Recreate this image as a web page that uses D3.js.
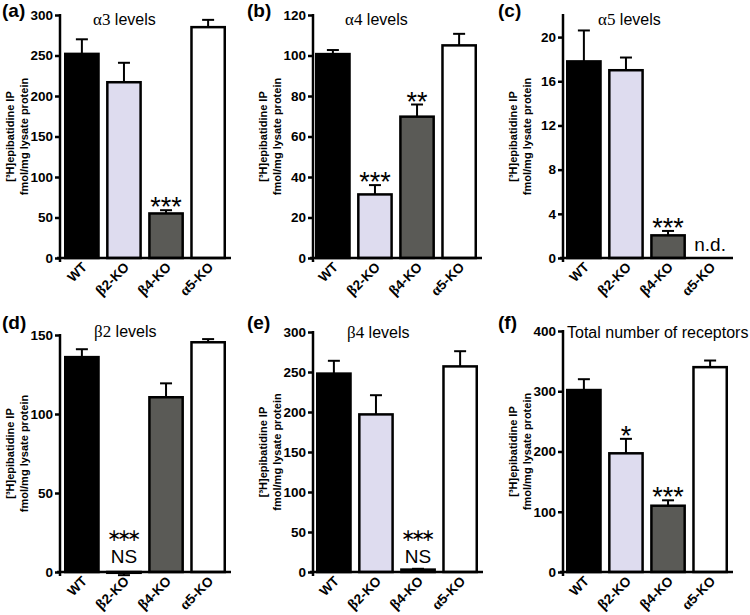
<!DOCTYPE html>
<html><head><meta charset="utf-8">
<script src="https://cdn.jsdelivr.net/npm/d3@7"></script>
<style>
body{margin:0;background:#fff}
svg{display:block}
text{font-family:"Liberation Sans",Arial,sans-serif;fill:#000}
</style>
</head><body>
<svg id="chart" width="750" height="615"></svg>
<script>
// ---------- data ----------
const categories = ["WT", "β2-KO", "β4-KO", "α5-KO"];

const a3Values = [252, 217, 55, 285];
const a3Errors = [18, 24, 4, 9];
const a3Sig    = ["", "", "***", ""];

const a4Values = [100.7, 31.4, 69.8, 105];
const a4Errors = [2, 4.6, 6, 5.7];
const a4Sig    = ["", "***", "**", ""];

const a5Values = [17.8, 17.0, 2.05, null];   // α5-KO: n.d.
const a5Errors = [2.8, 1.15, 0.4, null];
const a5Sig    = ["", "", "***", ""];

const b2Values = [136, -0.5, 110.6, 145.4];
const b2Errors = [5, 1.5, 8.8, 2];
const b2Sig    = ["", "***\nNS", "", ""];

const b4Values = [248, 197, 3, 257];
const b4Errors = [16, 24, 1, 19];
const b4Sig    = ["", "", "***\nNS", ""];

const totValues = [302, 197, 110, 340];
const totErrors = [18, 24, 9, 11];
const totSig    = ["", "*", "***", ""];

const a3Ticks  = [0, 50, 100, 150, 200, 250, 300];
const a4Ticks  = [0, 20, 40, 60, 80, 100, 120];
const a5Ticks  = [0, 4, 8, 12, 16, 20];
const b2Ticks  = [0, 50, 100, 150];
const b4Ticks  = [0, 50, 100, 150, 200, 250, 300];
const totTicks = [0, 100, 200, 300, 400];

const panelLabels = ["(a)", "(b)", "(c)", "(d)", "(e)", "(f)"];
const panelTitles = [
  [["α3", "serif"], [" levels", "sans"]],
  [["α4", "serif"], [" levels", "sans"]],
  [["α5", "serif"], [" levels", "sans"]],
  [["β2", "serif"], [" levels", "sans"]],
  [["β4", "serif"], [" levels", "sans"]],
  [["Total number of receptors", "sans"]]
];
const yLabel1 = "[³H]epibatidine IP";
const yLabel2 = "fmol/mg lysate protein";

// ---------- layout ----------
const barColors = ["#000000", "#dedcef", "#5a5a56", "#ffffff"];
const panels = [
  {values:a3Values, errors:a3Errors, sig:a3Sig, ticks:a3Ticks, max:300, x0:60,  off:4, top:15,  bottom:258, tx:93,  ty:25,  lx:2,   ly:17},
  {values:a4Values, errors:a4Errors, sig:a4Sig, ticks:a4Ticks, max:120, x0:313, off:2, top:15,  bottom:258, tx:345, ty:25,  lx:247, ly:17},
  {values:a5Values, errors:a5Errors, sig:a5Sig, ticks:a5Ticks, max:22,  x0:563, off:3, top:15,  bottom:258, tx:598, ty:25,  lx:498, ly:17},
  {values:b2Values, errors:b2Errors, sig:b2Sig, ticks:b2Ticks, max:150, x0:60,  off:4, top:335, bottom:572, tx:94,  ty:337, lx:2,   ly:329},
  {values:b4Values, errors:b4Errors, sig:b4Sig, ticks:b4Ticks, max:300, x0:313, off:3, top:332, bottom:572, tx:347, ty:338, lx:247, ly:329},
  {values:totValues,errors:totErrors,sig:totSig,ticks:totTicks,max:400, x0:563, off:3, top:331, bottom:572, tx:567, ty:338, lx:498, ly:329}
];

const svg = d3.select("#chart");
const SANS = '"Liberation Sans",Arial,sans-serif';
const SERIF = '"Liberation Serif","Times New Roman",serif';

panels.forEach((p, pi) => {
  const g = svg.append("g");
  const y = d3.scaleLinear().domain([0, p.max]).range([p.bottom, p.top]);
  const step = 40.5;
  const x = d3.scaleBand().domain(categories)
    .range([p.x0 + p.off, p.x0 + p.off + step * categories.length])
    .paddingInner(0.15).paddingOuter(0);

  // y axis ticks + labels
  const ax = g.append("g").attr("transform", `translate(${p.x0},0)`)
    .call(d3.axisLeft(y).tickValues(p.ticks).tickSize(5).tickPadding(2).tickFormat(d3.format("d")));
  ax.select(".domain").remove();
  ax.selectAll(".tick line").attr("stroke", "#000").attr("stroke-width", 2.5);
  ax.selectAll(".tick text").attr("font-family", SANS).attr("font-weight", "bold")
    .attr("font-size", 13.5).attr("fill", "#000");

  // bars
  p.values.forEach((v, i) => {
    if (v === null) return;
    const yv = y(v), y0 = y(0);
    g.append("rect")
      .attr("x", x(categories[i]) + 1.25)
      .attr("y", Math.min(yv, y0))
      .attr("width", x.bandwidth() - 2.5)
      .attr("height", Math.max(Math.abs(y0 - yv), 0.5))
      .attr("fill", barColors[i]).attr("stroke", "#000").attr("stroke-width", 2.5);
  });

  // error bars
  p.values.forEach((v, i) => {
    if (v === null) return;
    const e = p.errors[i];
    const end = v >= 0 ? v + e : v - e;
    const cx = x(categories[i]) + x.bandwidth() / 2;
    g.append("line").attr("x1", cx).attr("x2", cx).attr("y1", y(v)).attr("y2", y(end))
      .attr("stroke", "#000").attr("stroke-width", 2);
    g.append("line").attr("x1", cx - 6).attr("x2", cx + 6).attr("y1", y(end)).attr("y2", y(end))
      .attr("stroke", "#000").attr("stroke-width", 2);
  });

  // axes lines
  const lastBand = x(categories[categories.length - 1]) + x.bandwidth();
  g.append("line").attr("x1", p.x0 - 3).attr("x2", lastBand + 5)
    .attr("y1", y(0)).attr("y2", y(0)).attr("stroke", "#000").attr("stroke-width", 2.5);
  g.append("line").attr("x1", p.x0).attr("x2", p.x0)
    .attr("y1", p.top - 1).attr("y2", p.bottom + 4).attr("stroke", "#000").attr("stroke-width", 2.5);

  // significance labels
  p.sig.forEach((s, i) => {
    const cx = x(categories[i]) + x.bandwidth() / 2;
    if (s === "") return;
    const v = p.values[i], e = p.errors[i];
    if (s.includes("\n")) {
      const [st, ns] = s.split("\n");
      // stacked: asterisk operator glyph sits low in its box so the two labels stay apart
      const ls = -4;
      g.append("text").attr("x", cx + ls / 2).attr("y", y(0) - 31).attr("text-anchor", "middle")
        .attr("font-family", '"DejaVu Sans",sans-serif').attr("font-size", 17)
        .attr("fill", "#000").style("fill", "#000")
        .attr("letter-spacing", ls).text(st.replace(/\*/g, "∗"));
      g.append("text").attr("x", cx).attr("y", y(0) - 9).attr("text-anchor", "middle")
        .attr("font-size", 19).text(ns);
    } else {
      g.append("text").attr("x", cx).attr("y", y(v + e) + 6).attr("text-anchor", "middle")
        .attr("font-size", 27).text(s);
    }
  });
  // n.d.
  p.values.forEach((v, i) => {
    if (v !== null) return;
    const cx = x(categories[i]) + x.bandwidth() / 2;
    g.append("text").attr("x", cx).attr("y", y(0) - 7).attr("text-anchor", "middle")
      .attr("font-size", 19).text("n.d.");
  });

  // category labels
  categories.forEach((c, i) => {
    const cx = x(categories[i]) + x.bandwidth() / 2;
    const t = g.append("text")
      .attr("transform", `translate(${cx + 6},${p.bottom + 10}) rotate(-45)`)
      .attr("text-anchor", "end").attr("font-weight", "bold").attr("font-size", 13.5);
    const m = c.match(/^([αβ])(.*)$/);
    if (m) {
      t.append("tspan").attr("font-family", SERIF).attr("font-size", 15).text(m[1]);
      t.append("tspan").text(m[2]);
    } else t.text(c);
  });

  // y label
  const cy = (p.top + p.bottom) / 2;
  const yl = g.append("g").attr("transform", `translate(${p.x0 - 46},${cy}) rotate(-90)`);
  yl.append("text").attr("text-anchor", "middle").attr("font-weight", "bold").attr("font-size", 11).text(yLabel1);
  yl.append("text").attr("y", 14).attr("text-anchor", "middle").attr("font-weight", "bold").attr("font-size", 11).text(yLabel2);

  // title
  const tt = g.append("text").attr("x", p.tx).attr("y", p.ty).attr("font-size", 16);
  panelTitles[pi].forEach(([txt, fam]) => {
    tt.append("tspan").attr("font-family", fam === "serif" ? SERIF : SANS)
      .attr("font-size", fam === "serif" ? 17 : 16).text(txt);
  });

  // panel label
  g.append("text").attr("x", p.lx).attr("y", p.ly).attr("font-weight", "bold").attr("font-size", 19).text(panelLabels[pi]);
});
</script>
</body></html>
